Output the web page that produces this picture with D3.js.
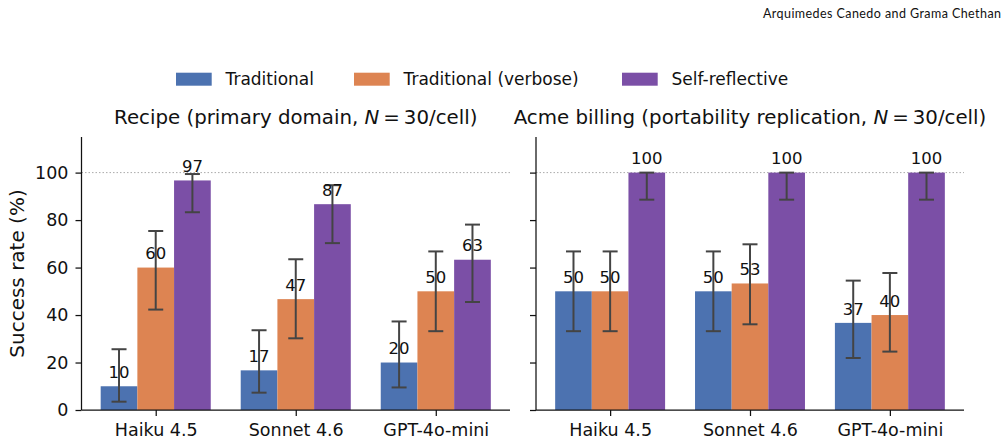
<!DOCTYPE html>
<head>
  <meta charset="utf-8">
  <title>Success rate</title>
  <style>
  body { margin: 0; background: white; }
  text { font-family: "DejaVu Sans", sans-serif; fill: #111; }
  .axis path, .axis line { stroke: #111; stroke-width: 1.25; }
  .axis text { font-size: 17.5px; fill: #111; }
  .val { font-size: 16.5px; text-anchor: middle; fill: #111; }
  .err { stroke: #444; stroke-width: 2; }
  .ref { stroke: #aaa; stroke-width: 1; stroke-dasharray: 1.5,2; }
  </style>
</head>

<svg id="chart"></svg>

<script src="https://cdn.jsdelivr.net/npm/d3@7"></script>

<script>
"use strict";

// dados
var models = ["Haiku 4.5", "Sonnet 4.6", "GPT-4o-mini"];
var series = ["Traditional", "Traditional (verbose)", "Self-reflective"];
var colors = ["#4c72b0", "#dd8452", "#7b4fa6"];
var yTicks = [0, 20, 40, 60, 80, 100];

// Recipe (primary domain)
var recipeTraditional = [10, 16.7, 20];
var recipeVerbose     = [60, 46.7, 50];
var recipeSelf        = [96.7, 86.7, 63.3];
var recipeLow  = [[3.5, 7.3, 9.5], [42.3, 30.2, 33.2], [83.3, 70.3, 45.5]];
var recipeHigh = [[25.6, 33.6, 37.3], [75.4, 63.5, 66.8], [99.4, 94.7, 78.1]];

// Acme billing (portability replication)
var acmeTraditional = [50, 50, 36.7];
var acmeVerbose     = [50, 53.3, 40];
var acmeSelf        = [100, 100, 100];
var acmeLow  = [[33.2, 33.2, 21.9], [33.2, 36.1, 24.6], [88.6, 88.6, 88.6]];
var acmeHigh = [[66.8, 66.8, 54.5], [66.8, 69.8, 57.7], [100, 100, 100]];

var panels = [
  {title: "Recipe (primary domain, ", values: [recipeTraditional, recipeVerbose, recipeSelf],
   low: recipeLow, high: recipeHigh, x0: 81.5, x1: 510, labels: true},
  {title: "Acme billing (portability replication, ", values: [acmeTraditional, acmeVerbose, acmeSelf],
   low: acmeLow, high: acmeHigh, x0: 536, x1: 964, labels: false}
];

var totalWidth = 1007,
    totalHeight = 445;

var svg = d3.select("#chart")
    .attr("width", totalWidth)
    .attr("height", totalHeight);

var plotTop = 137, plotBottom = 410;

var y = d3.scaleLinear()
    .domain([0, 115])
    .range([plotBottom, plotTop]);

// cabeçalho da página
svg.append("text")
    .attr("x", 1001)
    .attr("y", 17.5)
    .attr("text-anchor", "end")
    .style("font-family", "Lato, sans-serif")
    .style("font-size", "12.5px")
    .attr("textLength", 238)
    .text("Arquimedes Canedo and Grama Chethan");

// legenda
var legendX = [176, 354, 622];
var legend = svg.selectAll(".legend")
    .data(series)
  .enter().append("g")
    .attr("class", "legend")
    .attr("transform", function(d, i) { return "translate(" + legendX[i] + ",0)"; });

legend.append("rect")
    .attr("y", 72.7)
    .attr("width", 35.7)
    .attr("height", 13)
    .attr("fill", function(d, i) { return colors[i]; });

legend.append("text")
    .attr("x", 49.5)
    .attr("y", 85)
    .style("font-size", "17px")
    .text(function(d) { return d; });

// eixo y label
svg.append("text")
    .attr("transform", "translate(17," + ((plotTop + plotBottom) / 2) + ") rotate(-90)")
    .attr("text-anchor", "middle")
    .attr("dy", "0.35em")
    .style("font-size", "20px")
    .text("Success rate (%)");

panels.forEach(function(p) {
  var g = svg.append("g");

  var x = d3.scalePoint()
      .domain(models)
      .range([p.x0, p.x1])
      .padding(0.53);

  var inner = d3.scaleBand()
      .domain(series)
      .range([-x.step() * 0.393, x.step() * 0.393]);

  // linha de referência em 100%
  g.append("line")
      .attr("class", "ref")
      .attr("x1", p.x0)
      .attr("x2", p.x1)
      .attr("y1", y(100))
      .attr("y2", y(100));

  // título
  var t = g.append("text")
      .attr("x", (p.x0 + p.x1) / 2)
      .attr("y", 123.5)
      .attr("text-anchor", "middle")
      .style("font-size", "19.8px");
  t.append("tspan").text(p.title);
  t.append("tspan").style("font-style", "italic").text("N");
  t.append("tspan").text("\u2009=\u200930/cell)");

  series.forEach(function(s, si) {
    var rows = p.values[si].map(function(v, mi) {
      return {model: models[mi], value: v, low: p.low[si][mi], high: p.high[si][mi]};
    });

    var bar = g.selectAll(".bar-" + si)
        .data(rows)
      .enter().append("g")
        .attr("class", "bar-" + si)
        .attr("transform", function(d) { return "translate(" + (x(d.model) + inner(s)) + ",0)"; });

    bar.append("rect")
        .attr("y", function(d) { return y(d.value); })
        .attr("height", function(d) { return y(0) - y(d.value); })
        .attr("width", inner.bandwidth())
        .attr("fill", colors[si]);

    var cx = inner.bandwidth() / 2;
    bar.append("line")
        .attr("class", "err")
        .attr("x1", cx).attr("x2", cx)
        .attr("y1", function(d) { return y(d.low); })
        .attr("y2", function(d) { return y(d.high); });
    bar.append("line")
        .attr("class", "err")
        .attr("x1", cx - 7.5).attr("x2", cx + 7.5)
        .attr("y1", function(d) { return y(d.low); })
        .attr("y2", function(d) { return y(d.low); });
    bar.append("line")
        .attr("class", "err")
        .attr("x1", cx - 7.5).attr("x2", cx + 7.5)
        .attr("y1", function(d) { return y(d.high); })
        .attr("y2", function(d) { return y(d.high); });

    bar.append("text")
        .attr("class", "val")
        .attr("x", cx)
        .attr("y", function(d) { return y(d.value) - 8.3; })
        .text(function(d) { return Math.round(d.value); });
  });

  // eixos
  var yAxis = d3.axisLeft(y).tickValues(yTicks).tickSize(6).tickPadding(7);
  if (!p.labels) yAxis.tickFormat("");
  g.append("g")
      .attr("class", "axis axis--y")
      .attr("transform", "translate(" + p.x0 + ",0)")
      .call(yAxis)
      .call(function(a) { a.select(".domain").attr("d", "M0," + plotTop + "V" + plotBottom); });

  g.append("g")
      .attr("class", "axis axis--x")
      .attr("transform", "translate(0," + plotBottom + ")")
      .call(d3.axisBottom(x).tickSize(6).tickPadding(8))
      .call(function(a) { a.select(".domain").attr("d", "M" + p.x0 + ",0H" + p.x1); });
});
</script>
